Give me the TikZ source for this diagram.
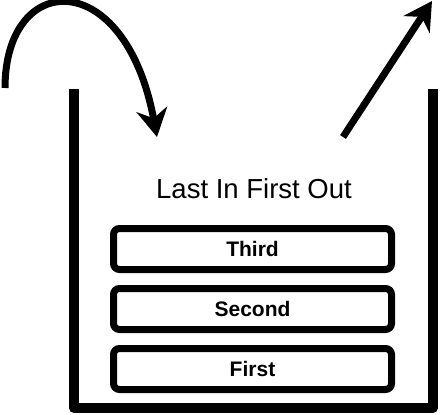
\documentclass[tikz,border=0pt]{standalone}
\usepackage{fontspec}
\setmainfont{Liberation Sans}
\usetikzlibrary{arrows.meta}
\tikzset{
  container/.style={line width=10pt, line join=round},
  itembox/.style={draw, line width=7pt, rounded corners=6pt, minimum width=278pt, minimum height=41pt, inner sep=0pt, font=\fontsize{21}{24}\selectfont\bfseries},
  title/.style={font=\fontsize{27.5}{31}\selectfont, inner sep=0pt},
  flow/.style={line width=7pt, -{Stealth[length=28pt, width=31pt, inset=9pt]}}
}
\begin{document}
\begin{tikzpicture}[x=1pt, y=-1pt]
\useasboundingbox (0,0) rectangle (440,415);
% container
\coordinate (tl) at (74,89);
\coordinate (bl) at (74,408);
\coordinate (br) at (433,408);
\coordinate (tr) at (433,89);
\draw[container] (tl) -- (bl) -- (br) -- (tr);
% title
\node[title, anchor=base] (lifo) at (254,198) {Last In First Out};
% items
\node[itembox] (third) at (252.5,249) {Third};
\node[itembox] (second) at (252.5,309) {Second};
\node[itembox] (first) at (252.5,369) {First};
% push arrow
\coordinate (pushstart) at (5,88);
\coordinate (pushend) at (157,137);
\draw[flow] (pushstart) .. controls (5,-30) and (125,-35) .. (pushend);
% pop arrow
\coordinate (popstart) at (343,137);
\coordinate (popend) at (432,1);
\draw[flow] (popstart) -- (popend);
\end{tikzpicture}
\end{document}
